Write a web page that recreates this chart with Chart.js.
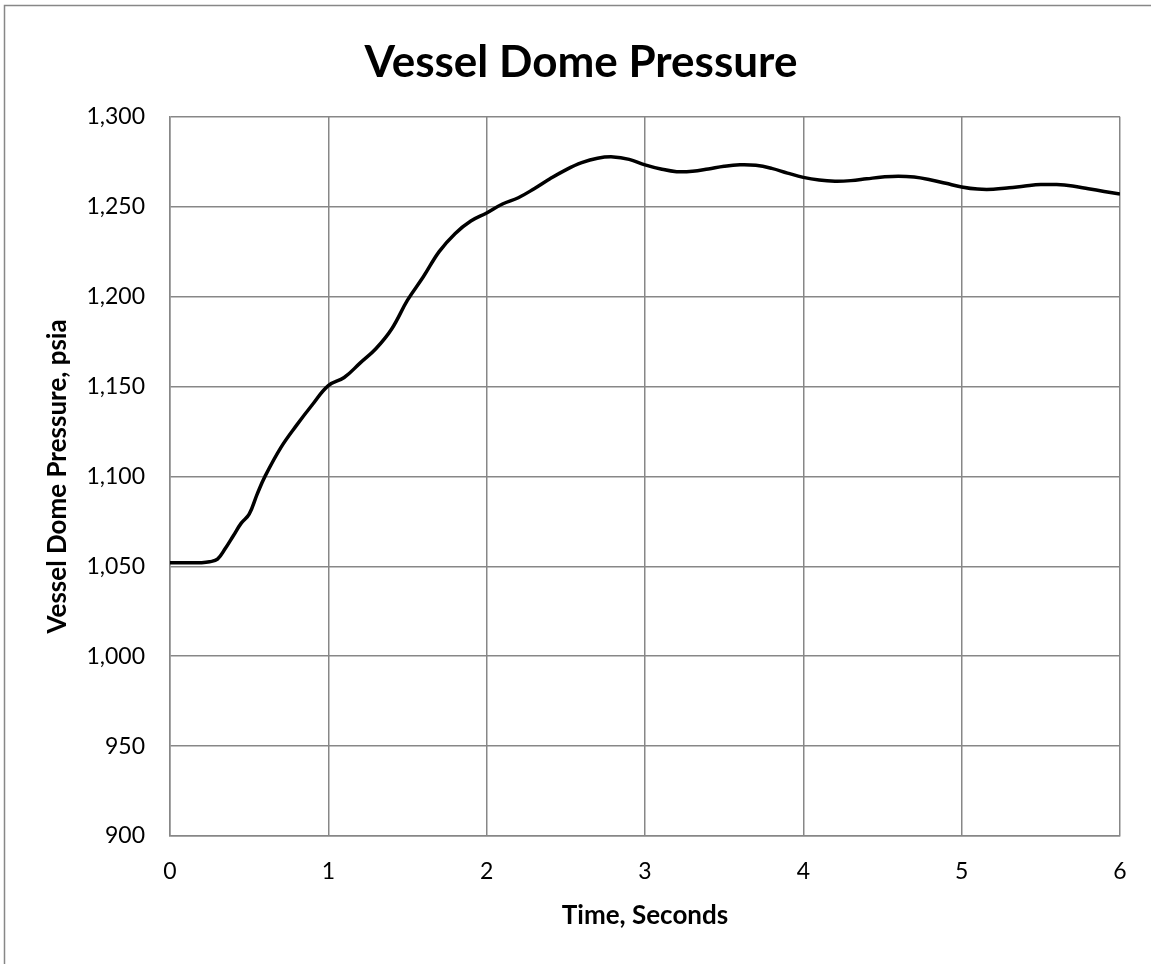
<!DOCTYPE html>
<html>
<head>
<meta charset="utf-8">
<script src="https://cdn.jsdelivr.net/npm/chart.js@4"></script>
<style>
  html, body { margin: 0; padding: 0; background: #ffffff; }
  #wrap { width: 1151px; height: 964px; position: relative; }
</style>
</head>
<body>
<div id="wrap"><canvas id="c" width="1151" height="964"></canvas></div>
<script>
const chartTitle = "Vessel Dome Pressure";
const xTitle = "Time, Seconds";
const yTitle = "Vessel Dome Pressure, psia";
const timeSeconds = [0, 0.1, 0.2, 0.25, 0.3, 0.35, 0.4, 0.45, 0.5, 0.55, 0.6, 0.7, 0.8, 0.9, 1.0,
  1.1, 1.2, 1.3, 1.4, 1.5, 1.6, 1.7, 1.8, 1.9, 2.0, 2.1, 2.2, 2.3, 2.4, 2.5, 2.6, 2.7, 2.8, 2.9, 3.0,
  3.1, 3.2, 3.3, 3.4, 3.5, 3.6, 3.7, 3.8, 3.9, 4.0, 4.1, 4.2, 4.3, 4.4, 4.5, 4.6, 4.7, 4.8, 4.9, 5.0,
  5.1, 5.2, 5.3, 5.4, 5.5, 5.6, 5.7, 5.8, 5.9, 6.0];
const pressurePsia = [1052, 1052, 1052, 1052.5, 1054, 1060, 1067, 1074, 1079, 1090, 1100, 1116, 1128.5, 1140, 1150.5,
  1155, 1163, 1171, 1182, 1198, 1211, 1225, 1235, 1242, 1246.5, 1251.5, 1255, 1260, 1265.5, 1270.5, 1274.5, 1277, 1277.7, 1276.3, 1273.3,
  1271, 1269.5, 1269.7, 1271, 1272.5, 1273.3, 1273, 1271.3, 1268.7, 1266.3, 1264.8, 1264.2, 1264.5, 1265.5, 1266.5, 1267, 1266.5, 1265, 1263, 1261,
  1259.8, 1259.7, 1260.5, 1261.5, 1262.3, 1262.3, 1261.5, 1260, 1258.5, 1257];
const xTicks = [0, 1, 2, 3, 4, 5, 6];
const yTicks = [900, 950, 1000, 1050, 1100, 1150, 1200, 1250, 1300];

const points = timeSeconds.map((t, i) => ({ x: t, y: pressurePsia[i] }));
const FONT = "Lato, 'Open Sans', sans-serif";
const GRID = '#878787';

const frame = {
  id: 'frame',
  beforeDraw(chart) {
    const ctx = chart.ctx;
    ctx.save();
    ctx.fillStyle = '#ffffff';
    ctx.fillRect(0, 0, chart.width, chart.height);
    ctx.strokeStyle = GRID;
    ctx.lineWidth = 1.5;
    ctx.beginPath();
    ctx.moveTo(4.5, chart.height + 5);
    ctx.lineTo(4.5, 5.5);
    ctx.lineTo(chart.width + 5, 5.5);
    ctx.stroke();
    ctx.restore();
  }
};

new Chart(document.getElementById('c'), {
  type: 'line',
  data: {
    datasets: [{
      data: points,
      borderColor: '#000000',
      borderWidth: 3.5,
      pointRadius: 0,
      tension: 0.4,
      fill: false
    }]
  },
  options: {
    responsive: false,
    animation: false,
    layout: { padding: { left: 42, right: 31, top: 36, bottom: 33 } },
    plugins: {
      legend: { display: false },
      tooltip: { enabled: false },
      title: {
        display: true,
        text: chartTitle,
        color: '#000000',
        font: { family: FONT, size: 44, weight: 'bold' },
        padding: { top: 0, bottom: 28 }
      }
    },
    scales: {
      x: {
        type: 'linear',
        min: 0, max: 6,
        afterBuildTicks(scale) { scale.ticks = xTicks.map(v => ({ value: v })); },
        afterFit(scale) { scale.height = 95; },
        grid: { color: GRID, lineWidth: 1.5, drawTicks: false },
        border: { color: GRID, width: 1.5 },
        ticks: { color: '#000000', padding: 22, font: { family: FONT, size: 23 } },
        title: { display: true, text: xTitle, color: '#000000', padding: 0,
                 font: { family: FONT, size: 26, weight: 'bold' } }
      },
      y: {
        type: 'linear',
        min: 900, max: 1300,
        afterBuildTicks(scale) { scale.ticks = yTicks.map(v => ({ value: v })); },
        afterFit(scale) { scale.width = 128; },
        grid: { color: GRID, lineWidth: 1.5, drawTicks: false },
        border: { color: GRID, width: 1.5 },
        ticks: { color: '#000000', padding: 25, font: { family: FONT, size: 23 },
                 callback: v => v.toLocaleString('en-US') },
        title: { display: true, text: yTitle, color: '#000000', padding: 0,
                 font: { family: FONT, size: 26, weight: 'bold' } }
      }
    }
  },
  plugins: [frame]
});
</script>
</body>
</html>
